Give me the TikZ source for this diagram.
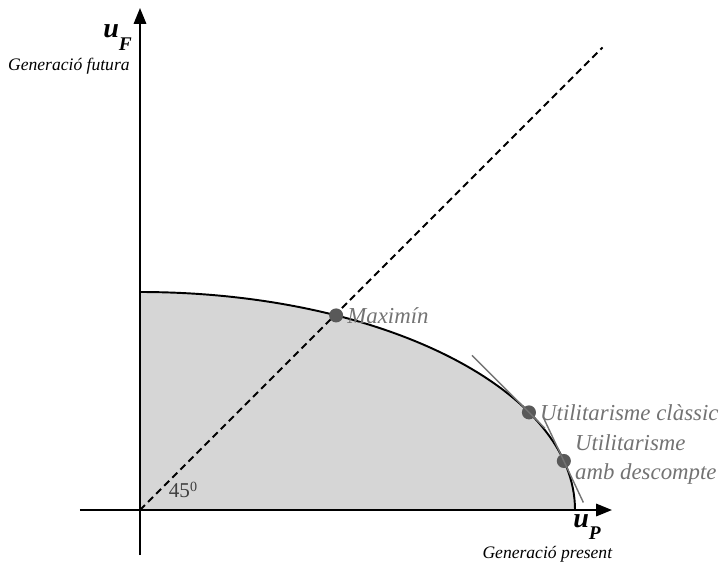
\documentclass[tikz,border=0pt]{standalone}
\usepackage{fontspec}
\setmainfont{Liberation Serif}
\usetikzlibrary{arrows.meta,positioning,calc}

\begin{document}
\begin{tikzpicture}[
    axis/.style={line width=1.2pt, -{Triangle[length=9pt,width=7pt]}},
    frontier/.style={line width=1.1pt},
    diagonal/.style={line width=1.1pt, dash pattern=on 4pt off 2.5pt},
    tangent/.style={black!55, line width=0.8pt},
    optpoint/.style={circle, fill=black!65, inner sep=0pt, minimum size=8pt},
    optlabel/.style={font=\fontsize{13}{16.5}\selectfont\itshape, text=black!55,
                     inner sep=1pt, align=left},
    axislabel/.style={font=\fontsize{16}{16}\selectfont\bfseries\itshape, inner sep=0pt},
    axiscaption/.style={font=\fontsize{10}{12}\selectfont\itshape, inner sep=0pt}]
  \useasboundingbox (-2.8,-1.02) rectangle (11.7,10.2);
  \coordinate (O) at (0,0);
  \coordinate (xfrom) at (-1.2,0);
  \coordinate (xtip) at (9.44,0);
  \coordinate (yfrom) at (0,-0.9);
  \coordinate (ytip) at (0,10.04);
  \coordinate (ytop) at (0,4.36);
  \coordinate (diagend) at (9.25,9.25);

  % feasible set and its frontier
  \fill[black!16] (O) -- (ytop) arc[start angle=90, end angle=0, x radius=8.7, y radius=4.36] -- cycle;
  \draw[frontier] (ytop) arc[start angle=90, end angle=0, x radius=8.7, y radius=4.36];

  \draw[diagonal] (O) -- (diagend);
  \draw[axis] (xfrom) -- (xtip);
  \draw[axis] (yfrom) -- (ytip);

  \node[optpoint] (maximin) at ({8.7*cos(63.2)},{4.36*sin(63.2)}) {};
  \node[optpoint] (classic) at ({8.7*cos(26.6)},{4.36*sin(26.6)}) {};
  \node[optpoint] (discount) at ({8.7*cos(13)},{4.36*sin(13)}) {};

  \draw[tangent] ($(classic)+(-1.14,1.14)$) -- ($(classic)+(0.32,-0.32)$);
  \draw[tangent] ($(discount)+(-0.41,0.87)$) -- ($(discount)+(0.39,-0.83)$);

  \node[optlabel, right=1pt of maximin] (maximinlbl) {Maximín};
  \node[optlabel, right=1pt of classic] (classiclbl) {Utilitarisme clàssic};
  \node[optlabel, right=1pt of discount, yshift=1pt] (discountlbl) {Utilitarisme\\amb descompte};

  \node[font=\fontsize{12}{12}\selectfont, text=black!75] (angle) at (0.86,0.4) {45\raisebox{3pt}{\fontsize{8}{8}\selectfont 0}};

  \node[axislabel, anchor=base west] (uF) at (-0.74,9.44) {u\raisebox{-7pt}{\fontsize{11}{11}\selectfont F}};
  \node[axiscaption, anchor=base east] (futura) at (-0.2,8.8) {Generació futura};
  \node[axislabel, anchor=base west] (uP) at (8.66,-0.34) {u\raisebox{-7pt}{\fontsize{11}{11}\selectfont P}};
  \node[axiscaption, anchor=base east] (present) at (9.45,-0.96) {Generació present};
\end{tikzpicture}
\end{document}
